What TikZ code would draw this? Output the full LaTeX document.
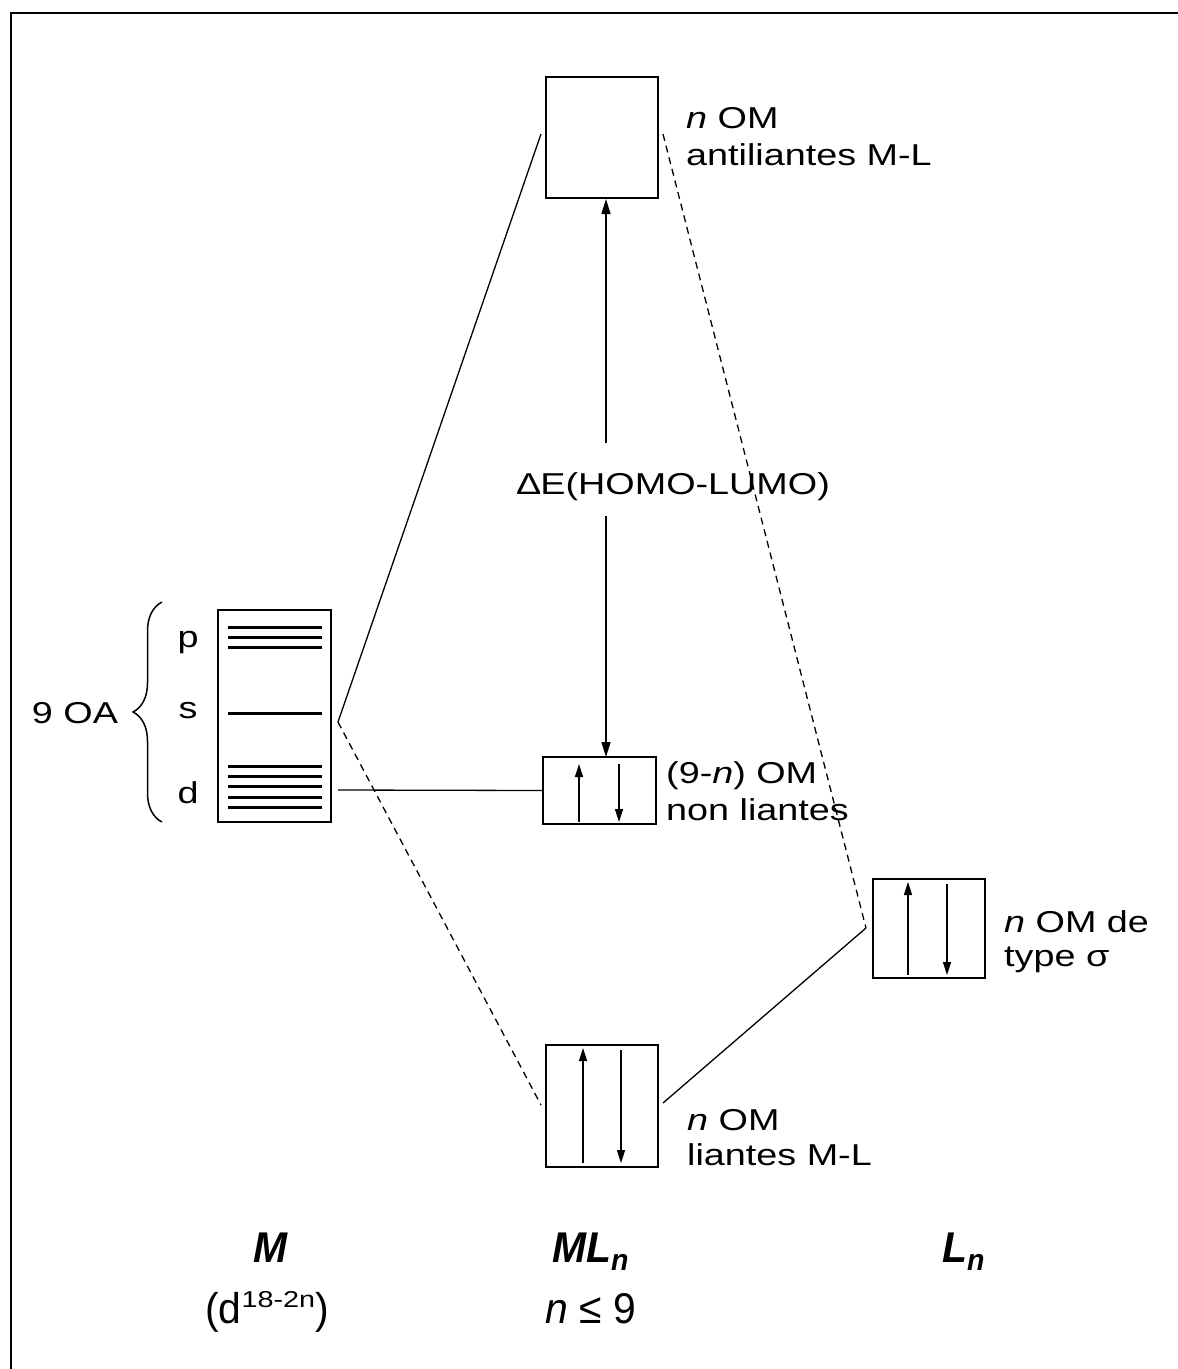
\documentclass[tikz,border=0pt]{standalone}
\usepackage{fontspec}
\setmainfont{Liberation Sans}[FakeStretch=1.25]
\newfontfamily\botfont{Liberation Sans}[FakeStretch=0.95]
\usetikzlibrary{arrows.meta,decorations.pathreplacing}
\tikzset{
  box/.style={draw, line width=1.5pt, inner sep=0pt},
  conn/.style={line width=1.3pt},
  dconn/.style={line width=1.3pt, dash pattern=on 7pt off 5pt},
  orb/.style={line width=3pt},
  spin/.style={line width=1.5pt, -{Triangle[length=13pt,width=8pt]}},
  gap/.style={line width=1.5pt, -{Triangle[length=15pt,width=9pt]}},
  lbl/.style={inner sep=0pt, font=\fontsize{30.2}{36}\selectfont},
  blbl/.style={inner sep=0pt, font=\botfont\fontsize{43}{49}\selectfont},
}
\begin{document}
\begin{tikzpicture}[x=1pt,y=-1pt]
\useasboundingbox (0,0) rectangle (1178,1369);
% frame
\draw[line width=2pt] (11,1369) -- (11,13) -- (1178,13);
% boxes
\node[box, minimum width=113pt, minimum height=212pt] (M) at (274.5,716) {};
\node[box, minimum width=112pt, minimum height=121pt] (ab) at (602,137.5) {};
\node[box, minimum width=113pt, minimum height=67pt] (nb) at (599.5,790.5) {};
\node[box, minimum width=112pt, minimum height=122pt] (bd) at (602,1106) {};
\node[box, minimum width=112pt, minimum height=99pt] (lg) at (929,928.5) {};
% atomic orbitals
\foreach \y in {627,637,647,713,766,776,786,797,807}
  \draw[orb] (228,\y) -- (322,\y);
% labels p s d
\node[lbl, anchor=base] (lp) at (188,647) {p};
\node[lbl, anchor=base] (ls) at (188,718) {s};
\node[lbl, anchor=base] (ld) at (188,803) {d};
% brace
\draw[line width=1.5pt, decorate, decoration={brace, amplitude=29pt, aspect=0.5}] (162,822) -- (162,602);
\node[lbl, anchor=base] (oa) at (75,723) {9 OA};
% connection points
\coordinate (ms) at (338,722);
\coordinate (md) at (338,790);
\coordinate (abL) at (541,134);
\coordinate (abR) at (663,134);
\coordinate (bdL) at (541,1105);
\coordinate (bdR) at (663,1103);
\coordinate (lgL) at (866,928);
\draw[conn] (ms) -- (abL);
\draw[dconn] (ms) -- (bdL);
\draw[conn] (md) -- (nb.west);
\draw[dconn] (abR) -- (lgL);
\draw[conn] (lgL) -- (bdR);
% HOMO-LUMO gap
\coordinate (gT) at (606,443);
\coordinate (gB) at (606,516);
\coordinate (abS) at (606,199);
\coordinate (nbN) at (606,757);
\draw[gap] (gT) -- (abS);
\draw[gap] (gB) -- (nbN);
\node[lbl, anchor=base west] (de) at (516,494) {Δ\kern-1ptE(HOMO-LUMO)};
% spins
\draw[spin] (579,822) -- (579,764);
\draw[spin] (619,764) -- (619,822);
\draw[spin] (583,1163) -- (583,1048);
\draw[spin] (621,1050) -- (621,1163);
\draw[spin] (908,975) -- (908,882);
\draw[spin] (947,884) -- (947,975);
% MO labels
\node[lbl, anchor=base west] (t1) at (686,128) {\textit{n} OM};
\node[lbl, anchor=base west] (t2) at (686,165) {antiliantes M-L};
\node[lbl, anchor=base west] (t3) at (666,783) {(9-\textit{n}) OM};
\node[lbl, anchor=base west] (t4) at (666,820) {non liantes};
\node[lbl, anchor=base west] (t5) at (1004,932) {\textit{n} OM de};
\node[lbl, anchor=base west] (t6) at (1004,966) {type σ};
\node[lbl, anchor=base west] (t7) at (687,1130) {\textit{n} OM};
\node[lbl, anchor=base west] (t8) at (687,1165) {liantes M-L};
% bottom labels
\node[blbl, anchor=base] (bM) at (271,1262) {\bfseries\itshape M};
\node[blbl, anchor=base] (bMc) at (267,1323) {(d\raisebox{16pt}{\rmfamily\fontsize{23}{26}\selectfont 18-2n})};
\node[blbl, anchor=base west] (bML) at (552,1262) {\bfseries\itshape ML\raisebox{-8pt}{\fontsize{30}{33}\selectfont n}};
\node[blbl, anchor=base west] (bMLc) at (545,1323) {\itshape n\upshape{} ≤ 9};
\node[blbl, anchor=base west] (bL) at (942,1262) {\bfseries\itshape L\raisebox{-8pt}{\fontsize{30}{33}\selectfont n}};
\end{tikzpicture}
\end{document}
